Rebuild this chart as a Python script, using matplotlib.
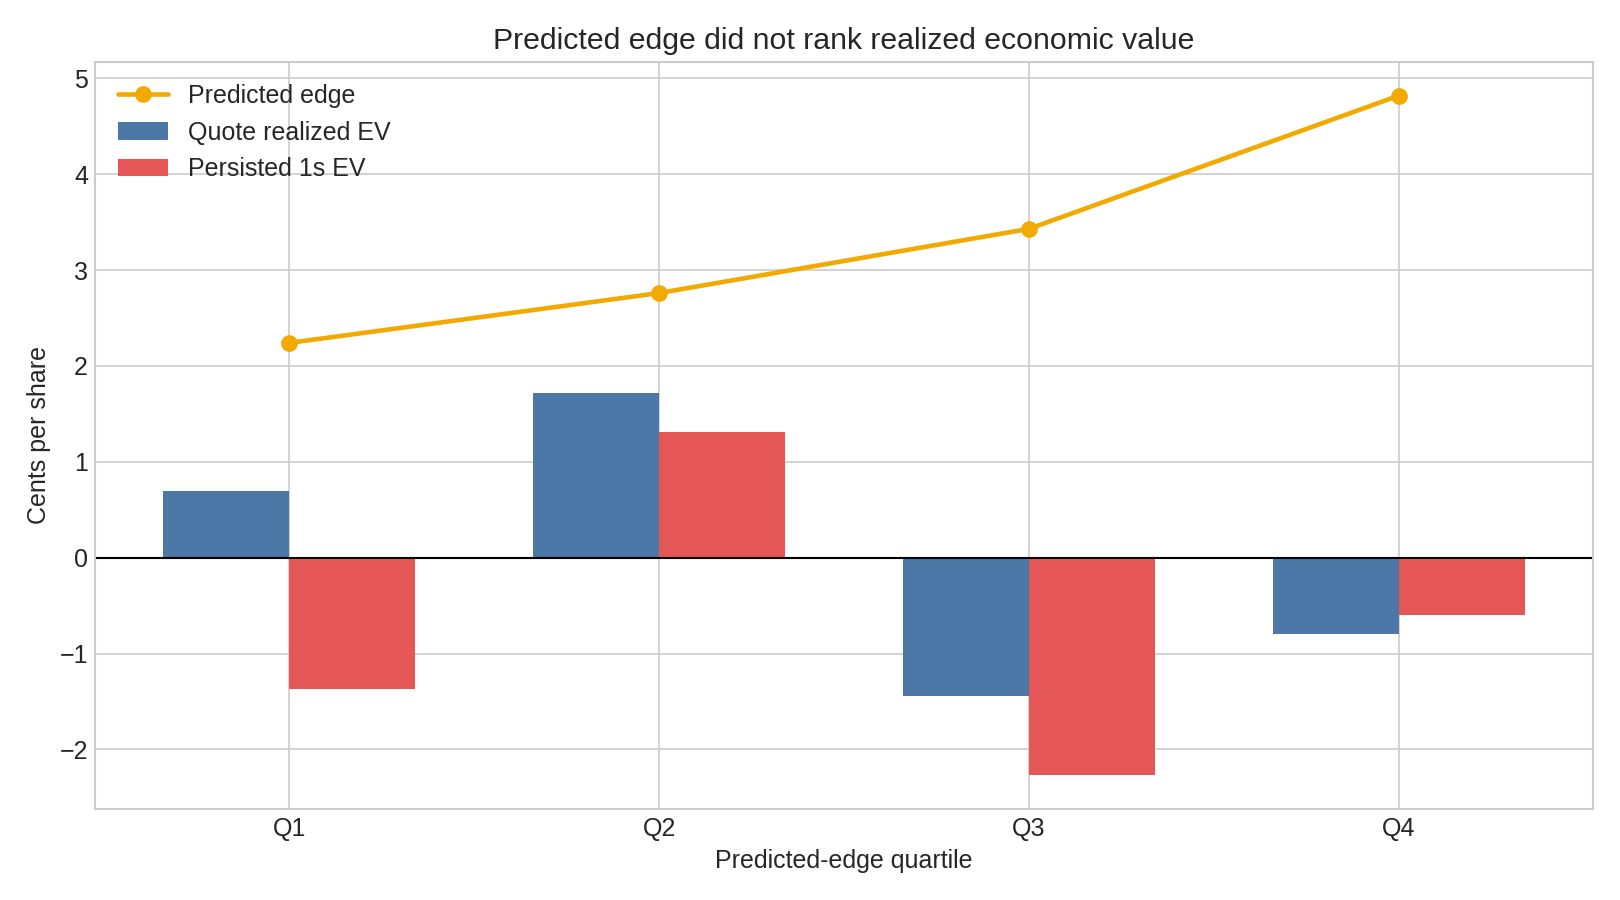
import numpy as np
import matplotlib.pyplot as plt

plt.style.use('seaborn-v0_8-whitegrid')

quartiles = ['Q1', 'Q2', 'Q3', 'Q4']
predicted_edge = [2.24, 2.76, 3.43, 4.82]
quote_ev = [0.70, 1.72, -1.44, -0.80]
persisted_ev = [-1.37, 1.31, -2.27, -0.60]

x = np.arange(len(quartiles))
w = 0.34

fig, ax = plt.subplots(figsize=(10.8, 6), dpi=150)
ax.bar(x - w / 2, quote_ev, w, color='#4C78A8', label='Quote realized EV')
ax.bar(x + w / 2, persisted_ev, w, color='#E45756', label='Persisted 1s EV')
ax.plot(x, predicted_edge, marker='o', color='#F2A900', lw=2.2, ms=7, label='Predicted edge')
ax.axhline(0, color='black', lw=1)

ax.set_xticks(x)
ax.set_xticklabels(quartiles)
ax.tick_params(labelsize=12)
ax.set_xlabel('Predicted-edge quartile', fontsize=12)
ax.set_ylabel('Cents per share', fontsize=12)
ax.set_title('Predicted edge did not rank realized economic value', fontsize=14.5)
ax.legend(loc='upper left', fontsize=12)

fig.tight_layout(pad=1.3)
fig.savefig('out.png')
